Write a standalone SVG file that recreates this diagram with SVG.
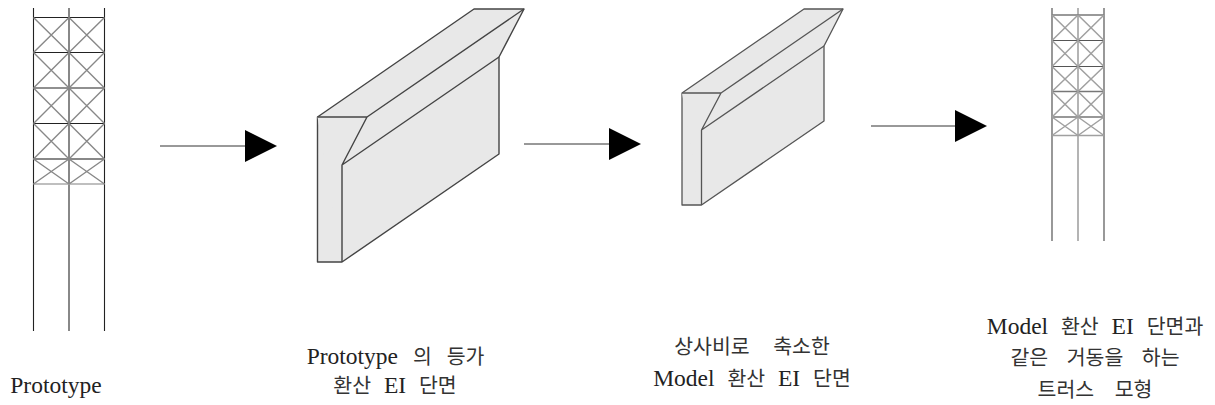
<svg xmlns="http://www.w3.org/2000/svg" width="1215" height="405" viewBox="0 0 1215 405">
<style>
.t{font-family:"Liberation Serif","Noto Sans CJK KR",serif;font-size:23.5px;fill:#222;text-anchor:middle;word-spacing:7px}
.k{font-family:"Noto Sans CJK KR","Liberation Serif",sans-serif;font-size:20.5px;fill:#333}
.shape{fill:#e8e8e8;stroke:#444;stroke-width:1.4;stroke-linejoin:round}
.shape2{fill:#e8e8e8;stroke:#555;stroke-width:1.3;stroke-linejoin:round}
.a{stroke:#333;stroke-width:1;fill:none}
.h{fill:#000;stroke:none}
.c1{stroke:#222;stroke-width:1.1;fill:none}
.c2{stroke:#888;stroke-width:2;fill:none}
.c3{stroke:#aaa;stroke-width:1.3;fill:none}
.d1{stroke:#888;stroke-width:1.4;fill:none}
.e1{stroke:#555;stroke-width:1.2;fill:none}
.e2{stroke:#b4b4b4;stroke-width:2;fill:none}
.e3{stroke:#777;stroke-width:1.5;fill:none}
.e4{stroke:#a0a0a0;stroke-width:1.5;fill:none}
</style>
<g id="truss-prototype">
<path class="c1" d="M33.5 8V331M104.5 8V331"/>
<path class="c2" d="M69 8V331"/>
<path class="c1" d="M33.5 17.5H104.5M33.5 52.5H104.5M33.5 88H104.5M33.5 123.5H104.5"/>
<path class="c2" d="M33.5 159H104.5"/>
<path class="c3" d="M33.5 184H104.5"/>
<path class="d1" d="M33.5 17.5L69 52.5M69 17.5L33.5 52.5M69 17.5L104.5 52.5M104.5 17.5L69 52.5M33.5 52.5L69 88M69 52.5L33.5 88M69 52.5L104.5 88M104.5 52.5L69 88M33.5 88L69 123.5M69 88L33.5 123.5M69 88L104.5 123.5M104.5 88L69 123.5M33.5 123.5L69 159M69 123.5L33.5 159M69 123.5L104.5 159M104.5 123.5L69 159M33.5 159L69 184M69 159L33.5 184M69 159L104.5 184M104.5 159L69 184"/>
</g>
<g id="section-prototype">
<path class="shape" d="M317.5 117L474 9H524L499 57V154L342 262H317.5Z"/>
<path class="shape" d="M317.5 117H367L342 165V262M367 117L524 9M342 165L499 57"/>
</g>
<g id="section-model">
<path class="shape2" d="M682 93L804 9H843L824 46V121L701.5 205H682Z"/>
<path class="shape2" d="M682 93H721L701.5 130V205M721 93L843 9M701.5 130L824 46"/>
</g>
<g id="truss-model">
<path class="e1" d="M1052 8V241M1104 8V241"/>
<path class="e2" d="M1078 8V241"/>
<path class="e3" d="M1052 15H1104"/>
<path class="e1" d="M1052 40.5H1104M1052 66.5H1104"/>
<path class="e3" d="M1052 91.5H1104M1052 117H1104"/>
<path class="e4" d="M1052 135.5H1104"/>
<path class="e4" d="M1052 15L1078 40.5M1078 15L1052 40.5M1078 15L1104 40.5M1104 15L1078 40.5M1052 40.5L1078 66.5M1078 40.5L1052 66.5M1078 40.5L1104 66.5M1104 40.5L1078 66.5M1052 66.5L1078 91.5M1078 66.5L1052 91.5M1078 66.5L1104 91.5M1104 66.5L1078 91.5M1052 91.5L1078 117M1078 91.5L1052 117M1078 91.5L1104 117M1104 91.5L1078 117M1052 117L1078 135.5M1078 117L1052 135.5M1078 117L1104 135.5M1104 117L1078 135.5"/>
</g>
<g id="connectors">
<path class="a" d="M160 146H246"/><path class="h" d="M245 130L277 146L245 162Z"/>
<path class="a" d="M524 144H610"/><path class="h" d="M609 128L641 144L609 160Z"/>
<path class="a" d="M871 126H956"/><path class="h" d="M955 110L987 126L955 142Z"/>
</g>
<g id="labels">
<text class="t" x="56" y="393">Prototype</text>
<text class="t" x="395.5" y="364" style="word-spacing:9px">Prototype <tspan class="k">의</tspan> <tspan class="k">등가</tspan></text>
<text class="t" x="395" y="393"><tspan class="k">환산</tspan> EI <tspan class="k">단면</tspan></text>
<text class="t" x="752" y="354"><tspan class="k" word-spacing="19">상사비로 축소한</tspan></text>
<text class="t" x="752" y="386">Model <tspan class="k">환산</tspan> EI <tspan class="k">단면</tspan></text>
<text class="t" x="1095" y="334">Model <tspan class="k">환산</tspan> EI <tspan class="k">단면과</tspan></text>
<text class="t" x="1095" y="365"><tspan class="k" word-spacing="14">같은 거동을 하는</tspan></text>
<text class="t" x="1095" y="397"><tspan class="k" word-spacing="16">트러스 모형</tspan></text>
</g>
</svg>
